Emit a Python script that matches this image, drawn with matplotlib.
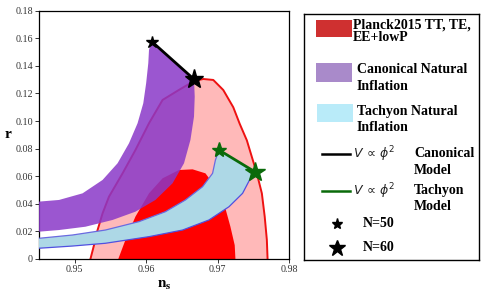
import numpy as np
import matplotlib.pyplot as plt
from matplotlib.patches import Rectangle

plt.rcParams['font.family'] = ['Liberation Serif', 'DejaVu Sans']

# Planck 2015 TT,TE,EE+lowP contours
planck95_ns = [0.9522, 0.9527, 0.9532, 0.9539, 0.9548, 0.9567, 0.9585, 0.9604, 0.9623,
               0.9646, 0.9667, 0.9680, 0.9694, 0.9708, 0.9722, 0.9731, 0.9741, 0.9748,
               0.9755, 0.9762, 0.9766, 0.9769, 0.9770]
planck95_r = [0.0, 0.010, 0.021, 0.0331, 0.0452, 0.0621, 0.079, 0.0984, 0.1153,
              0.1226, 0.1290, 0.1305, 0.1298, 0.1225, 0.110, 0.098, 0.086, 0.074,
              0.062, 0.0476, 0.0307, 0.0138, 0.0]
planck68_ns = [0.9561, 0.9571, 0.9585, 0.9604, 0.9623, 0.9646, 0.9665, 0.9683, 0.9697,
               0.9709, 0.9718, 0.9724, 0.9725]
planck68_r = [0.0, 0.0138, 0.0307, 0.0476, 0.0585, 0.0645, 0.065, 0.0621, 0.0524,
              0.0404, 0.0234, 0.010, 0.0]

# Canonical natural inflation band
can_up_ns = [0.945, 0.9478, 0.9511, 0.9539, 0.9560, 0.9576, 0.9588, 0.9596, 0.9600,
             0.9603, 0.9604, 0.9608]
can_up_r = [0.0416, 0.0428, 0.0476, 0.0573, 0.0694, 0.0839, 0.0984, 0.1129, 0.1274,
            0.1419, 0.1516, 0.1576]
can_lo_ns = [0.9667, 0.9668, 0.9667, 0.9662, 0.9653, 0.9637, 0.9613, 0.9585, 0.9553,
             0.9515, 0.9478, 0.945]
can_lo_r = [0.1303, 0.1177, 0.1032, 0.0863, 0.0694, 0.0549, 0.0428, 0.0343, 0.0283,
            0.0234, 0.021, 0.0198]

# Tachyon natural inflation band
tach_up_ns = [0.945, 0.9497, 0.9543, 0.9590, 0.9627, 0.9655, 0.9679, 0.9693, 0.9697, 0.9702]
tach_up_r = [0.015, 0.0174, 0.021, 0.0271, 0.0343, 0.0428, 0.0524, 0.0621, 0.0718, 0.0790]
tach_lo_ns = [0.9752, 0.9746, 0.9735, 0.9716, 0.9688, 0.9651, 0.9604, 0.9543, 0.9497, 0.945]
tach_lo_r = [0.0633, 0.0585, 0.0476, 0.0379, 0.0283, 0.021, 0.0162, 0.0114, 0.0094, 0.0078]

# phi^2 predictions, N=50 and N=60
can_phi2_ns = [0.9608, 0.9667]
can_phi2_r = [0.1576, 0.1303]
tach_phi2_ns = [0.9702, 0.9752]
tach_phi2_r = [0.0790, 0.0633]

xticks = [0.95, 0.96, 0.97, 0.98]
yticks = [0, 0.02, 0.04, 0.06, 0.08, 0.10, 0.12, 0.14, 0.16, 0.18]
ytick_labels = ['0', '0.02', '0.04', '0.06', '0.08', '0.10', '0.12', '0.14', '0.16', '0.18']

fig = plt.figure(figsize=(5.03, 3.01), dpi=100)
ax = fig.add_axes([39 / 503, 42 / 301, 250 / 503, 248.3 / 301])

ax.fill(planck95_ns, planck95_r, color='#ffb9b9', lw=0, zorder=1)
ax.plot(planck95_ns, planck95_r, color='#ee1111', lw=1.4, zorder=2)
ax.fill(planck68_ns, planck68_r, color='#ff0000', lw=0, zorder=2)

# canonical band
cx = can_up_ns + can_lo_ns
cy = can_up_r + can_lo_r
ax.fill(cx, cy, color='#8a38c8', alpha=0.85, lw=0, zorder=3)

# tachyon band
tx = tach_up_ns + tach_lo_ns
ty = tach_up_r + tach_lo_r
ax.fill(tx, ty, color='#add8e6', lw=0, zorder=4)
ax.plot(tach_up_ns, tach_up_r, color='#6a6ae0', lw=0.9, zorder=4)
ax.plot(tach_lo_ns, tach_lo_r, color='#5050e0', lw=0.9, zorder=4)

ax.plot(can_phi2_ns, can_phi2_r, color='black', lw=2, zorder=5)
ax.plot(can_phi2_ns[0], can_phi2_r[0], marker='*', color='black', ms=9, zorder=6)
ax.plot(can_phi2_ns[1], can_phi2_r[1], marker='*', color='black', ms=14, zorder=6)
ax.plot(tach_phi2_ns, tach_phi2_r, color='#0a6a0a', lw=2, zorder=5)
ax.plot(tach_phi2_ns[0], tach_phi2_r[0], marker='*', color='#0a6a0a', ms=11, zorder=6)
ax.plot(tach_phi2_ns[1], tach_phi2_r[1], marker='*', color='#0a6a0a', ms=15, zorder=6)

ax.set_xlim(0.945, 0.98)
ax.set_ylim(0, 0.18)
ax.set_xticks(xticks)
ax.set_xticklabels(['0.95', '0.96', '0.97', '0.98'])
ax.set_yticks(yticks)
ax.set_yticklabels(ytick_labels)
ax.tick_params(labelsize=7.2, length=3, width=0.7, colors='#333333', pad=1.5)
for s in ax.spines.values():
    s.set_linewidth(0.9)
ax.set_xlabel(r'$\mathbf{n_s}$', fontsize=11, math_fontfamily='stix', labelpad=3)
ax.set_ylabel('r', fontsize=11, fontweight='bold', rotation=0, labelpad=5, va='center')

# legend panel, in pixel units
lg = fig.add_axes([304 / 503, 41 / 301, 175 / 503, 246 / 301])
lg.set_xlim(304, 479)
lg.set_ylim(260, 14)
lg.set_xticks([])
lg.set_yticks([])
for s in lg.spines.values():
    s.set_linewidth(1)

tkw = dict(fontsize=10, fontweight='bold', va='center', ha='left')
lg.add_patch(Rectangle((316, 20), 36, 17, color='#cf3030', lw=0))
lg.text(353, 25, 'Planck2015 TT, TE,', **tkw)
lg.text(353, 38, 'EE+lowP', **tkw)
lg.add_patch(Rectangle((316, 63), 36, 19, color='#a98aca', lw=0))
lg.text(357, 70, 'Canonical Natural', **tkw)
lg.text(357, 87, 'Inflation', **tkw)
lg.add_patch(Rectangle((317, 104), 36, 18, color='#b9ebf9', lw=0))
lg.text(357, 112, 'Tachyon Natural', **tkw)
lg.text(357, 128, 'Inflation', **tkw)

lg.plot([322, 350], [154, 154], color='black', lw=1.8)
lg.text(353, 154, r'$V\,\propto\,\phi^2$', fontsize=9, va='center', ha='left',
        math_fontfamily='dejavusans', color='#222222')
lg.text(414, 154, 'Canonical', **tkw)
lg.text(414, 171, 'Model', **tkw)
lg.plot([322, 350], [191, 191], color='#0a6a0a', lw=1.8)
lg.text(353, 191, r'$V\,\propto\,\phi^2$', fontsize=9, va='center', ha='left',
        math_fontfamily='dejavusans', color='#222222')
lg.text(414, 191, 'Tachyon', **tkw)
lg.text(414, 207, 'Model', **tkw)

lg.plot(337, 224, marker='*', color='black', ms=8)
lg.text(363, 224, 'N=50', **tkw)
lg.plot(337, 248, marker='*', color='black', ms=12)
lg.text(363, 248, 'N=60', **tkw)

fig.savefig('out.png', dpi=100)
